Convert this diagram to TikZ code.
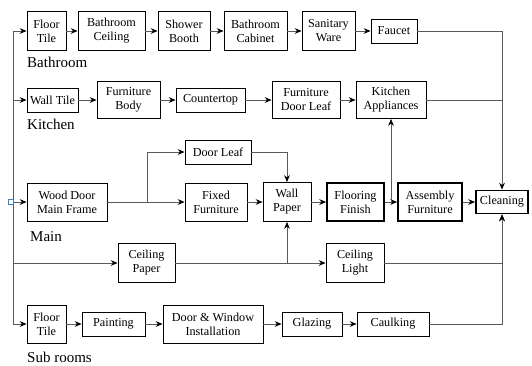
\documentclass[tikz,border=0pt]{standalone}
\usepackage{fontspec}
\setmainfont{Liberation Serif}
\usetikzlibrary{arrows.meta,positioning,calc}
\definecolor{LineGray}{HTML}{5A5A5A}
\definecolor{StartBlue}{HTML}{3C7FC0}

\begin{document}
\begin{tikzpicture}[
			x=1pt,y=-1pt,
			box/.style={draw=black,line width=0.9pt,align=center,inner sep=1pt,font=\fontsize{12.2}{14}\selectfont},
			boldbox/.style={box,line width=1.8pt},
			sz/.style 2 args={minimum width=#1,minimum height=#2},
			arr/.style={-{Stealth[length=2.4mm,width=2mm,black]},line width=0.8pt,color=LineGray},
			link/.style={line width=0.8pt,color=LineGray},
			grp/.style={anchor=west,inner sep=0pt,font=\fontsize{15}{17}\selectfont}
		]
		\useasboundingbox (0,0) rectangle (532,365);
		\node[box,sz={39}{39}] (bFloor) at (46.5,31) {Floor\\Tile};
		\node[box,sz={67}{39}] (bCeil) at (111.5,31) {Bathroom\\Ceiling};
		\node[box,sz={52}{39}] (bShower) at (184,31) {Shower\\Booth};
		\node[box,sz={63}{39}] (bCabinet) at (255.5,31) {Bathroom\\Cabinet};
		\node[box,sz={53}{39}] (bSanitary) at (328.5,31) {Sanitary\\Ware};
		\node[box,sz={46}{24}] (bFaucet) at (394,31) {Faucet};
		\node[grp] (lBath) at (27,62) {Bathroom};
		\node[box,sz={51}{24}] (kWall) at (52.5,100) {Wall Tile};
		\node[box,sz={63}{37}] (kBody) at (128.5,100) {Furniture\\Body};
		\node[box,sz={69}{24}] (kCounter) at (210.5,100) {Countertop};
		\node[box,sz={68}{37}] (kDoor) at (306,100) {Furniture\\Door Leaf};
		\node[box,sz={70}{37}] (kAppl) at (391,100) {Kitchen\\Appliances};
		\node[grp] (lKitchen) at (27,124) {Kitchen};
		\node[box,sz={80}{38}] (mFrame) at (67,202) {Wood Door\\Main Frame};
		\node[box,sz={66}{24}] (mLeaf) at (218,152) {Door Leaf};
		\node[box,sz={62}{38}] (mFixed) at (216,202) {Fixed\\Furniture};
		\node[box,sz={48}{39}] (mWall) at (287,202) {Wall\\Paper};
		\node[boldbox,sz={57}{38}] (mFloor) at (355.5,202) {Flooring\\Finish};
		\node[boldbox,sz={64}{38}] (mAssembly) at (430,202) {Assembly\\Furniture};
		\node[boldbox,sz={52}{23}] (clean) at (502,202) {Cleaning};
		\node[grp] (lMain) at (30,237) {Main};
		\node[box,sz={57}{39}] (cPaper) at (146.5,263) {Ceiling\\Paper};
		\node[box,sz={58}{39}] (cLight) at (355,263) {Ceiling\\Light};
		\node[box,sz={39}{38}] (sFloor) at (46.5,324) {Floor\\Tile};
		\node[box,sz={63}{24}] (sPaint) at (113.5,324) {Painting};
		\node[box,sz={100}{38}] (sDoor) at (213,324) {Door \& Window\\Installation};
		\node[box,sz={60}{24}] (sGlaz) at (312,324) {Glazing};
		\node[box,sz={72}{24}] (sCaulk) at (393,324) {Caulking};
		\node[grp] (lSub) at (27,357) {Sub rooms};
		\coordinate (spineTop) at (13,31);
		\coordinate (spineKit) at (13,100);
		\coordinate (spineCeil) at (13,263);
		\coordinate (spineBot) at (13,324);
		\coordinate (jSplit) at (147,202);
		\draw[link] (spineTop) -- (spineBot);
		\node[draw=StartBlue,fill=white,line width=0.6pt,minimum size=5pt,inner sep=0pt] (start) at (11,202) {};
		\draw[arr] (spineTop) -- (bFloor);
		\draw[arr] (spineKit) -- (kWall);
		\draw[arr] (start) -- (mFrame);
		\draw[arr] (spineCeil) -- (cPaper);
		\draw[arr] (spineBot) -- (sFloor);
		\draw[arr] (bFloor) -- (bCeil);
		\draw[arr] (bCeil) -- (bShower);
		\draw[arr] (bShower) -- (bCabinet);
		\draw[arr] (bCabinet) -- (bSanitary);
		\draw[arr] (bSanitary) -- (bFaucet);
		\draw[arr] (bFaucet) -| (clean);
		\draw[arr] (kWall) -- (kBody);
		\draw[arr] (kBody) -- (kCounter);
		\draw[arr] (kCounter) -- (kDoor);
		\draw[arr] (kDoor) -- (kAppl);
		\draw[link] (kAppl) -- (kAppl -| clean);
		\draw[link] (mFrame) -- (jSplit);
		\draw[arr] (jSplit) |- (mLeaf);
		\draw[arr] (jSplit) -- (mFixed);
		\draw[arr] (mLeaf) -| (mWall);
		\draw[arr] (mFixed) -- (mWall);
		\draw[arr] (mWall) -- (mFloor);
		\draw[arr] (mFloor) -- (mAssembly);
		\draw[arr] (kAppl |- mFloor) -- (kAppl);
		\draw[arr] (mAssembly) -- (clean);
		\draw[arr] (cPaper) -- (cLight);
		\draw[arr] (mWall |- cPaper) -- (mWall);
		\draw[arr] (cLight) -| (clean);
		\draw[arr] (sFloor) -- (sPaint);
		\draw[arr] (sPaint) -- (sDoor);
		\draw[arr] (sDoor) -- (sGlaz);
		\draw[arr] (sGlaz) -- (sCaulk);
		\draw[arr] (sCaulk) -| (clean);
	\end{tikzpicture}
\end{document}
